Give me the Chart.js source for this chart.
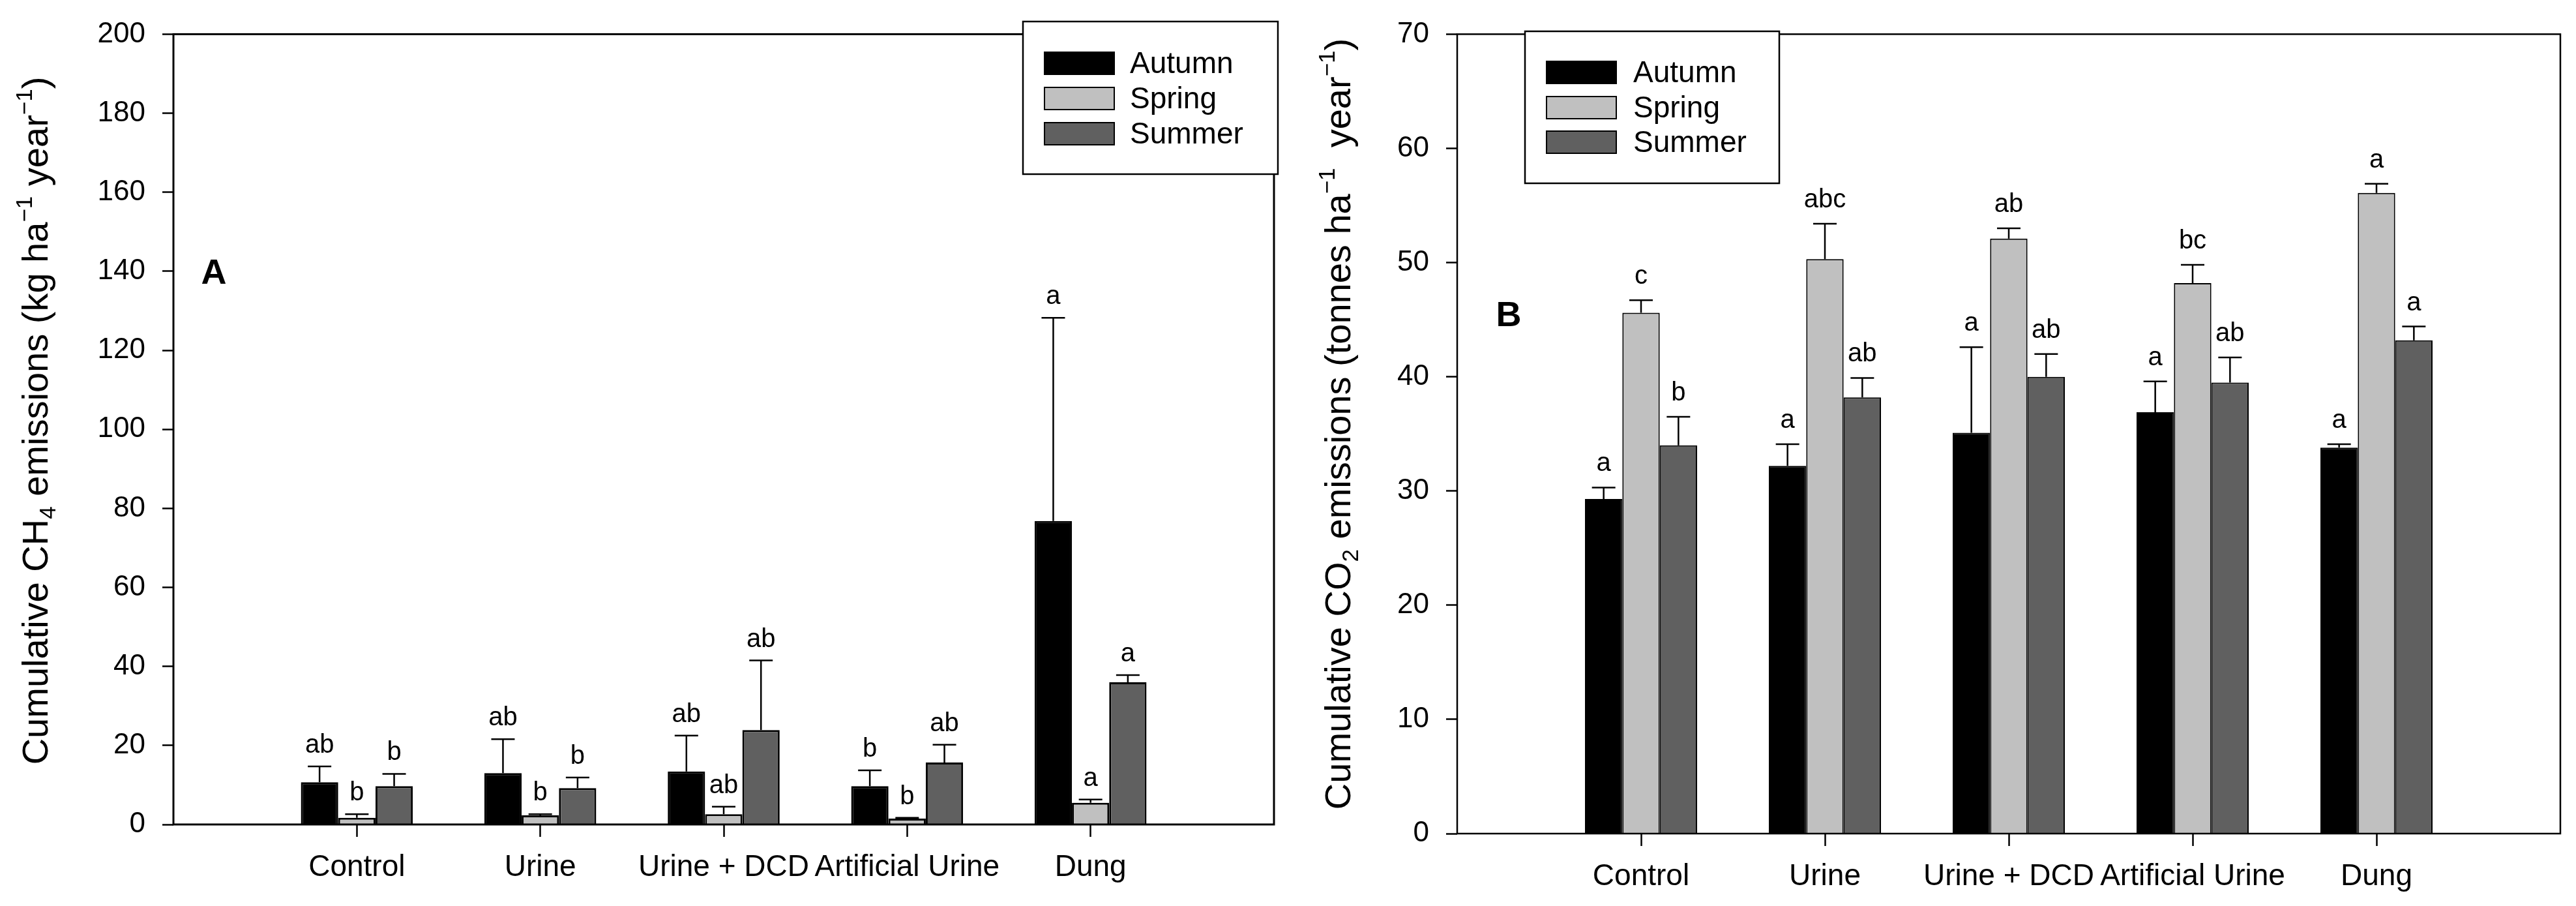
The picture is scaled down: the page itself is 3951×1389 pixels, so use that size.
<!DOCTYPE html>
<html>
<head>
<meta charset="utf-8">
<script src="https://cdn.jsdelivr.net/npm/chart.js@4.4.1/dist/chart.umd.min.js"></script>
<style>
  html, body { margin: 0; padding: 0; background: #fff; }
  #wrap { display: flex; width: 3951px; height: 1389px; }
  canvas { display: block; }
</style>
</head>
<body>
<div id="wrap">
  <canvas id="ch4Chart" width="1976" height="1389"></canvas>
  <canvas id="co2Chart" width="1975" height="1389"></canvas>
</div>
<script>
// Data

const categories = ["Control", "Urine", "Urine + DCD", "Artificial Urine", "Dung"];
const seasons = ["Autumn", "Spring", "Summer"];
const seasonColors = ["#000000", "#c0c0c0", "#606060"];

// panel A: cumulative CH4 (kg ha-1 year-1)
const ch4Autumn = [10.7, 13.0, 13.4, 9.7, 76.8];
const ch4Spring = [1.7, 2.3, 2.6, 1.5, 5.5];
const ch4Summer = [9.7, 9.2, 23.9, 15.7, 36.0];
const ch4AutumnErr = [4.0, 8.6, 9.1, 4.0, 51.4];
const ch4SpringErr = [0.9, 0.3, 1.9, 0.2, 0.8];
const ch4SummerErr = [3.1, 2.7, 17.6, 4.5, 1.8];
const ch4AutumnLetters = ["ab", "ab", "ab", "b", "a"];
const ch4SpringLetters = ["b", "b", "ab", "b", "a"];
const ch4SummerLetters = ["b", "b", "ab", "ab", "a"];
const ch4Ticks = [0, 20, 40, 60, 80, 100, 120, 140, 160, 180, 200];

// panel B: cumulative CO2 (tonnes ha-1 year-1)
const co2Autumn = [29.3, 32.2, 35.1, 36.9, 33.8];
const co2Spring = [45.6, 50.3, 52.1, 48.2, 56.1];
const co2Summer = [34.0, 38.2, 40.0, 39.5, 43.2];
const co2AutumnErr = [1.0, 1.9, 7.5, 2.7, 0.3];
const co2SpringErr = [1.1, 3.1, 0.9, 1.6, 0.8];
const co2SummerErr = [2.5, 1.7, 2.0, 2.2, 1.2];
const co2AutumnLetters = ["a", "a", "a", "a", "a"];
const co2SpringLetters = ["c", "abc", "ab", "bc", "a"];
const co2SummerLetters = ["b", "ab", "ab", "ab", "a"];
const co2Ticks = [0, 10, 20, 30, 40, 50, 60, 70];


const FONT = "'Liberation Sans', Arial, sans-serif";
Chart.defaults.font.family = FONT;
Chart.defaults.color = "#000";

// blank slots at both ends so the groups sit at 1..5 on a 0..6 axis
function pad(arr) {
    return [null].concat(arr, [null]);
}


// draws a rotated axis title with sub/superscripts
function drawRichTitle(ctx, x, y, runs, size) {
    ctx.save();
    ctx.translate(x, y);
    ctx.rotate(-Math.PI / 2);
    ctx.fillStyle = "#000";
    ctx.textBaseline = "alphabetic";
    ctx.textAlign = "left";
    const small = Math.round(size * 0.62);
    let total = 0;
    runs.forEach(r => {
        ctx.font = (r[1] === "n" ? size : small) + "px " + FONT;
        total += ctx.measureText(r[0]).width;
    });
    let cx = -total / 2;
    runs.forEach(r => {
        ctx.font = (r[1] === "n" ? size : small) + "px " + FONT;
        let dy = 0;
        if (r[1] === "sub") dy = size * 0.22;
        if (r[1] === "sup") dy = -size * 0.42;
        ctx.fillText(r[0], cx, dy);
        cx += ctx.measureText(r[0]).width;
    });
    ctx.restore();
}


function panelPlugin(p) {
    return {
        id: "panel" + p.letter,
        afterDraw(chart) {
            const ctx = chart.ctx;
            const a = chart.chartArea;
            const yScale = chart.scales.y;

            ctx.save();

            // plot frame
            ctx.strokeStyle = "#000";
            ctx.lineWidth = p.frameWidth;
            ctx.strokeRect(a.left, a.top, a.right - a.left, a.bottom - a.top);

            // error bars and letters
            chart.data.datasets.forEach((ds, di) => {
                const meta = chart.getDatasetMeta(di);
                p.errors[di].forEach((e, i) => {
                    const bar = meta.data[i + 1];
                    const v = ds.data[i + 1];
                    const yBar = yScale.getPixelForValue(v);
                    const yTop = yScale.getPixelForValue(v + e);
                    ctx.strokeStyle = "#000";
                    ctx.lineWidth = p.errWidth;
                    ctx.beginPath();
                    ctx.moveTo(bar.x, yBar);
                    ctx.lineTo(bar.x, yTop);
                    ctx.moveTo(bar.x - 18, yTop);
                    ctx.lineTo(bar.x + 18, yTop);
                    ctx.stroke();

                    ctx.font = "40px " + FONT;
                    ctx.fillStyle = "#000";
                    ctx.textAlign = "center";
                    ctx.textBaseline = "alphabetic";
                    ctx.fillText(p.letters[di][i], bar.x, yTop - p.letterGap);
                });
            });

            // legend box
            const L = p.legend;
            ctx.fillStyle = "#fff";
            ctx.fillRect(L.x, L.y, L.w, L.h);
            ctx.lineWidth = 2.5;
            ctx.strokeStyle = "#000";
            ctx.strokeRect(L.x, L.y, L.w, L.h);
            chart.data.datasets.forEach((ds, di) => {
                const cy = L.rowY[di];
                ctx.fillStyle = ds.backgroundColor;
                ctx.fillRect(L.swX, cy - 17, 107, 34);
                ctx.lineWidth = 2;
                ctx.strokeRect(L.swX, cy - 17, 107, 34);
                ctx.fillStyle = "#000";
                ctx.font = "46px " + FONT;
                ctx.textAlign = "left";
                ctx.textBaseline = "middle";
                ctx.fillText(ds.label, L.textX, cy + 2);
            });

            // panel letter
            ctx.font = "bold 54px " + FONT;
            ctx.fillStyle = "#000";
            ctx.textAlign = "center";
            ctx.textBaseline = "middle";
            ctx.fillText(p.letter, p.letterX, p.letterY);

            ctx.restore();

            drawRichTitle(ctx, p.titleX, p.titleY, p.title, 56);
        }
    };
}


function makeChart(canvasId, values, ticks, p) {
    return new Chart(document.getElementById(canvasId), {
        type: "bar",
        data: {
            labels: pad(categories).map(c => c === null ? "" : c),
            datasets: seasons.map((s, i) => ({
                label: s,
                data: pad(values[i]),
                backgroundColor: seasonColors[i],
                borderColor: "#000",
                borderWidth: p.barBorder,
                categoryPercentage: 0.61,
                barPercentage: 1.0
            }))
        },
        options: {
            responsive: false,
            animation: false,
            devicePixelRatio: 1,
            layout: {
                padding: { left: 0, top: p.top, right: p.right, bottom: 0 }
            },
            plugins: {
                legend: { display: false },
                tooltip: { enabled: false }
            },
            scales: {
                x: {
                    offset: false,
                    border: { display: false },
                    grid: {
                        offset: false,
                        drawOnChartArea: false,
                        drawTicks: true,
                        tickLength: 19,
                        tickWidth: 2.5,
                        tickColor: ctx => (ctx.index === 0 || ctx.index === categories.length + 1) ? "rgba(0,0,0,0)" : "#000"
                    },
                    ticks: {
                        autoSkip: false,
                        maxRotation: 0,
                        minRotation: 0,
                        padding: 20,
                        font: { size: 46 }
                    },
                    afterFit: s => { s.height = p.xHeight; }
                },
                y: {
                    min: ticks[0],
                    max: ticks[ticks.length - 1],
                    border: { display: false },
                    grid: {
                        drawOnChartArea: false,
                        drawTicks: true,
                        tickLength: 17,
                        tickWidth: 2.5,
                        tickColor: "#000"
                    },
                    ticks: {
                        padding: 26,
                        font: { size: 44 }
                    },
                    afterBuildTicks: s => { s.ticks = ticks.map(v => ({ value: v })); },
                    afterFit: s => { s.width = p.yWidth; }
                }
            }
        },
        plugins: [panelPlugin(p)]
    });
}


// Panel A

makeChart("ch4Chart", [ch4Autumn, ch4Spring, ch4Summer], ch4Ticks, {
    letter: "A",
    letterX: 328,
    letterY: 420,
    top: 37,
    right: 22,
    yWidth: 266,
    xHeight: 125,
    barBorder: 3,
    frameWidth: 3,
    errWidth: 2.5,
    letterGap: 21,
    errors: [ch4AutumnErr, ch4SpringErr, ch4SummerErr],
    letters: [ch4AutumnLetters, ch4SpringLetters, ch4SummerLetters],
    legend: { x: 1569, y: 33, w: 391, h: 234, swX: 1602, textX: 1733, rowY: [97, 151, 205] },
    titleX: 73,
    titleY: 645,
    title: [
        ["Cumulative CH", "n"], ["4", "sub"], [" emissions (kg ha", "n"], ["\u22121", "sup"],
        [" year", "n"], ["\u22121", "sup"], [")", "n"]
    ]
});


// Panel B

makeChart("co2Chart", [co2Autumn, co2Spring, co2Summer], co2Ticks, {
    letter: "B",
    letterX: 338,
    letterY: 485,
    top: 52,
    right: 24,
    yWidth: 259,
    xHeight: 111,
    barBorder: 2,
    frameWidth: 2.5,
    errWidth: 2.5,
    letterGap: 25,
    errors: [co2AutumnErr, co2SpringErr, co2SummerErr],
    letters: [co2AutumnLetters, co2SpringLetters, co2SummerLetters],
    legend: { x: 363, y: 48, w: 390, h: 233, swX: 396, textX: 529, rowY: [111, 165, 218] },
    titleX: 95,
    titleY: 650,
    title: [
        ["Cumulative CO", "n"], ["2", "sub"], [" emissions (tonnes ha", "n"], ["\u22121", "sup"],
        ["  year", "n"], ["\u22121", "sup"], [")", "n"]
    ]
});
</script>
</body>
</html>
